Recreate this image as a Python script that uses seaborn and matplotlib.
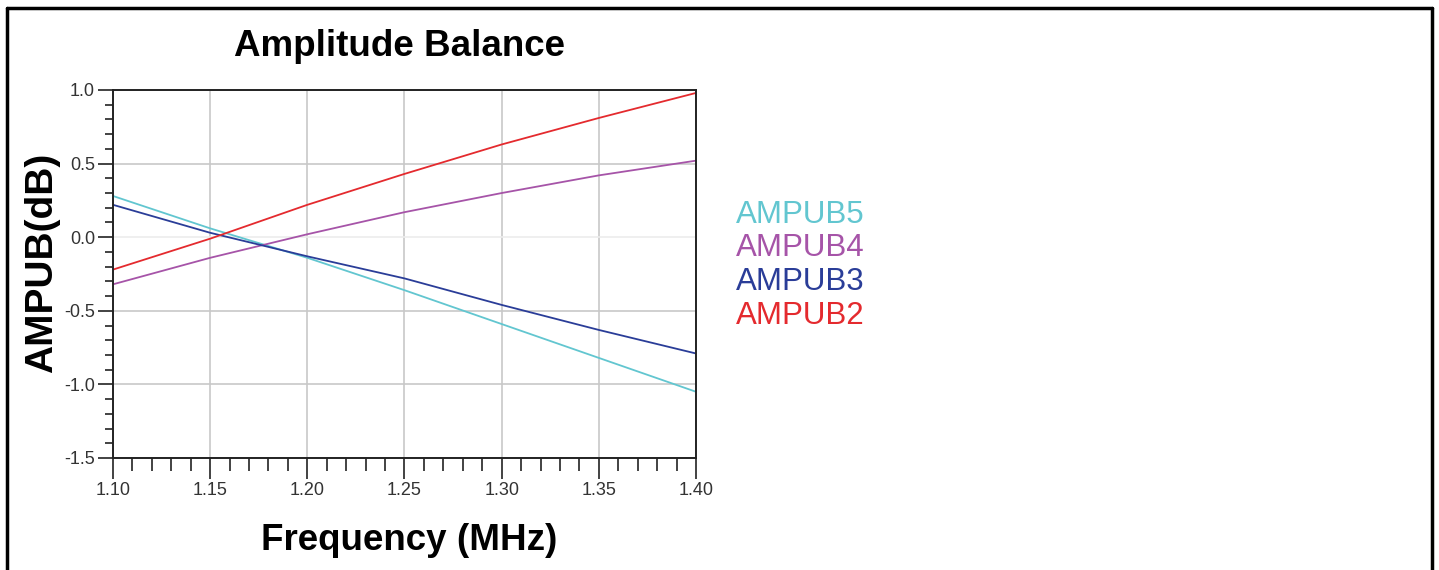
import pandas as pd
import matplotlib.pyplot as plt
import seaborn as sns
from matplotlib.ticker import MultipleLocator, FormatStrFormatter
from matplotlib.lines import Line2D

# values
freq = [1.10, 1.15, 1.20, 1.25, 1.30, 1.35, 1.40]
ampub5 = [0.28, 0.06, -0.14, -0.36, -0.59, -0.82, -1.05]
ampub4 = [-0.32, -0.14, 0.02, 0.17, 0.30, 0.42, 0.52]
ampub3 = [0.22, 0.03, -0.13, -0.28, -0.46, -0.63, -0.79]
ampub2 = [-0.22, -0.01, 0.22, 0.43, 0.63, 0.81, 0.98]
series_names = ["AMPUB5", "AMPUB4", "AMPUB3", "AMPUB2"]
series_colors = ["#62c6d0", "#a654a8", "#2a3d98", "#e42a2e"]

df = pd.concat([
    pd.DataFrame({"freq": freq, "val": v, "trace": n})
    for n, v in zip(series_names, [ampub5, ampub4, ampub3, ampub2])
])

sns.set_style("white")
plt.rcParams['font.family'] = ['Liberation Sans', 'DejaVu Sans']
plt.rcParams['text.color'] = 'black'

fig = plt.figure(figsize=(14.39, 5.70), dpi=100)
ax = fig.add_axes([113 / 1439, 1 - 458 / 570, 583 / 1439, 368 / 570])

sns.lineplot(data=df, x="freq", y="val", hue="trace", palette=dict(zip(series_names, series_colors)),
             linewidth=1.3, legend=False, ax=ax)

ax.set_xlim(1.10, 1.40)
ax.set_ylim(-1.5, 1.0)
ax.xaxis.set_major_locator(MultipleLocator(0.05))
ax.xaxis.set_minor_locator(MultipleLocator(0.01))
ax.yaxis.set_major_locator(MultipleLocator(0.5))
ax.yaxis.set_minor_locator(MultipleLocator(0.1))
ax.xaxis.set_major_formatter(FormatStrFormatter("%.2f"))
ax.yaxis.set_major_formatter(FormatStrFormatter("%.1f"))
ax.grid(True, which="major", color="#c8c8c8", linewidth=1.2)
for gl, t in zip(ax.get_ygridlines(), ax.get_yticks()):
    if abs(t) < 1e-9:
        gl.set_color("#ececec")

ax.tick_params(axis="x", which="major", bottom=True, length=15, width=1.2, color="#222222",
               labelsize=13, labelcolor="#333333", pad=2)
ax.tick_params(axis="x", which="minor", bottom=True, length=9, width=1.2, color="#222222")
ax.tick_params(axis="y", which="major", left=True, length=11, width=1.2, color="#222222",
               labelsize=13, labelcolor="#333333", pad=2)
ax.tick_params(axis="y", which="minor", left=True, length=6, width=1.2, color="#222222")
for s in ax.spines.values():
    s.set_visible(True)
    s.set_color("#222222")
    s.set_linewidth(1.4)

ax.set_xlabel("")
ax.set_ylabel("")
fig.text(400 / 1439, 1 - 46 / 570, "Amplitude Balance", ha="center", va="center",
         fontsize=26.5, fontweight="bold")
fig.text(409 / 1439, 1 - 540 / 570, "Frequency (MHz)", ha="center", va="center",
         fontsize=26.5, fontweight="bold")
fig.text(42 / 1439, 1 - 263 / 570, "AMPUB(dB)", ha="center", va="center",
         rotation=90, fontsize=28, fontweight="bold")

# legend as coloured labels
for i, (n, c) in enumerate(zip(series_names, series_colors)):
    fig.text(736 / 1439, 1 - (215 + i * 33.5) / 570, n, ha="left", va="center",
             fontsize=22.5, color=c)

# outer frame
for xs, ys in [([7.5, 7.5], [-5, 7.5]), ([7.5, 1432], [7.5, 7.5]), ([1432, 1432], [7.5, -5])]:
    fig.add_artist(Line2D([x / 1439 for x in xs], [1 - y / 570 if y >= 0 else 0 for y in ys],
                          color="black", linewidth=2.5, transform=fig.transFigure))

fig.savefig("out.png", dpi=100)
